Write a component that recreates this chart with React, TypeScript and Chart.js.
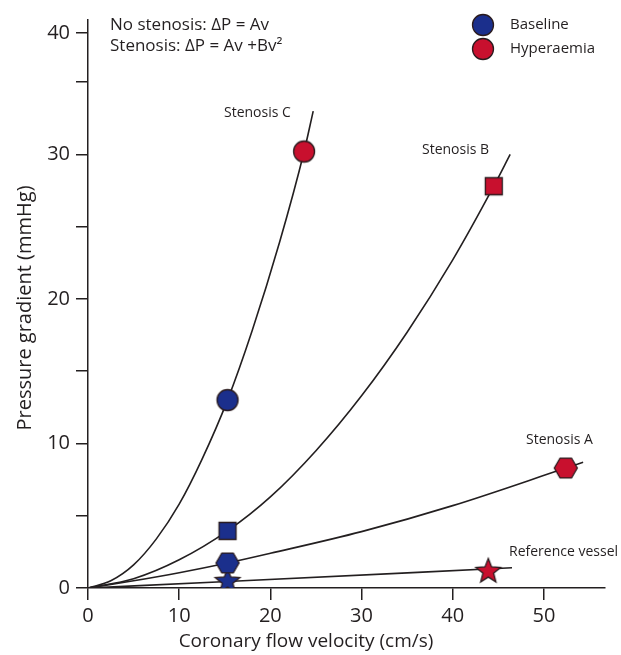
import React, { useEffect, useRef } from "react";
import { Chart, registerables } from "chart.js";

Chart.register(...registerables);

// ---------- data ----------
const xTickValues = [0, 10, 20, 30, 40, 50];
const yTickValues = [0, 5, 10, 15, 20, 25, 30, 35, 38.4];
const yTickLabels = ["0", "", "10", "", "20", "", "30", "", "40"];

const refVelocity = [0, 15.3, 46.5];
const refGradient = [0, 0.45, 1.4];

const stenosisAVelocity = [0, 5, 10, 15.3, 20, 30, 40, 52.4, 54.3];
const stenosisAGradient = [0, 0.5, 1.06, 1.73, 2.4, 3.9, 5.7, 8.3, 8.7];

const stenosisBVelocity = [0, 5, 10, 15.3, 20, 25, 30, 35, 40, 44.5, 46.3];
const stenosisBGradient = [0, 0.64, 1.95, 3.95, 6.3, 9.5, 13.3, 17.7, 22.7, 27.8, 30.0];

const stenosisCVelocity = [0, 2.5, 5, 7.5, 10, 12.5, 15.3, 18, 21, 23.7, 24.7];
const stenosisCGradient = [0, 0.5, 1.6, 3.4, 5.8, 8.9, 13.0, 17.8, 23.9, 30.2, 33.0];

// order: Reference vessel, Stenosis A, Stenosis B, Stenosis C
const markerShapes = ["star", "hexagon", "square", "circle"];
const baselineVelocity = [15.3, 15.3, 15.3, 15.3];
const baselineGradient = [0.55, 1.73, 3.95, 13.0];
const hyperaemiaVelocity = [43.9, 52.4, 44.5, 23.7];
const hyperaemiaGradient = [1.25, 8.3, 27.8, 30.2];

const legendLabels = ["Baseline", "Hyperaemia"];
const formulaLines = ["No stenosis: \u0394P = Av", "Stenosis: \u0394P = Av +Bv\u00b2"];
const curveLabels = ["Reference vessel", "Stenosis A", "Stenosis B", "Stenosis C"];
const xTitle = "Coronary flow velocity (cm/s)";
const yTitle = "Pressure gradient (mmHg)";

// ---------- styles ----------
const FONT = '"Open Sans", "DejaVu Sans", sans-serif';
const INK = "#231f20";
const BLUE = "#1b2f8c";
const RED = "#c8102e";
const EDGE = "#2a1b1e";
const legendColors = [BLUE, RED];
// label anchors in pixels (left edge, vertical middle)
const curveLabelPos = [
  [509, 552],
  [526, 440],
  [422, 150],
  [224, 113],
];

function makeMarker(shape: string, fill: string): HTMLCanvasElement {
  const size = 30;
  const c = document.createElement("canvas");
  c.width = size;
  c.height = size;
  const g = c.getContext("2d")!;
  const cx = size / 2;
  const cy = size / 2;
  g.beginPath();
  if (shape === "circle") {
    g.arc(cx, cy, 10.5, 0, Math.PI * 2);
  } else if (shape === "square") {
    g.rect(cx - 8.5, cy - 8.5, 17, 17);
  } else if (shape === "hexagon") {
    for (let i = 0; i < 6; i++) {
      const a = (Math.PI / 3) * i;
      const px = cx + 11.5 * Math.cos(a);
      const py = cy + 11.5 * Math.sin(a);
      if (i === 0) g.moveTo(px, py);
      else g.lineTo(px, py);
    }
    g.closePath();
  } else {
    for (let i = 0; i < 10; i++) {
      const r = i % 2 ? 5.6 : 13;
      const a = -Math.PI / 2 + (i * Math.PI) / 5;
      const px = cx + r * Math.cos(a);
      const py = cy + 1.5 + r * Math.sin(a);
      if (i === 0) g.moveTo(px, py);
      else g.lineTo(px, py);
    }
    g.closePath();
  }
  g.fillStyle = fill;
  g.fill();
  g.lineWidth = 1.3;
  g.strokeStyle = EDGE;
  g.stroke();
  return c;
}

const zip = (xs: number[], ys: number[]) => xs.map((v, i) => ({ x: v, y: ys[i] }));

export default function App() {
  const ref = useRef<HTMLCanvasElement | null>(null);

  useEffect(() => {
    const canvas = ref.current;
    if (!canvas) return;

    const blueMarkers = markerShapes.map((s) => makeMarker(s, BLUE));
    const redMarkers = markerShapes.map((s) => makeMarker(s, RED));

    const lineStyle = {
      showLine: true,
      borderColor: INK,
      borderWidth: 1.6,
      pointRadius: 0,
      pointHoverRadius: 0,
      cubicInterpolationMode: "monotone" as const,
      fill: false,
      order: 2,
    };

    const annotate = {
      id: "annotate",
      afterDraw(chart: any) {
        const ctx = chart.ctx as CanvasRenderingContext2D;
        ctx.save();
        ctx.textBaseline = "middle";
        ctx.textAlign = "left";
        ctx.fillStyle = INK;
        ctx.font = `17px ${FONT}`;
        formulaLines.forEach((t, i) => ctx.fillText(t, 110, 25 + i * 21));

        legendLabels.forEach((t, i) => {
          const yy = 25 + i * 24;
          ctx.beginPath();
          ctx.arc(483, yy, 10.5, 0, Math.PI * 2);
          ctx.fillStyle = legendColors[i];
          ctx.fill();
          ctx.lineWidth = 1.3;
          ctx.strokeStyle = EDGE;
          ctx.stroke();
          ctx.fillStyle = INK;
          ctx.font = `15px ${FONT}`;
          ctx.fillText(t, 510, yy);
        });

        ctx.font = `14px ${FONT}`;
        curveLabels.forEach((t, i) => ctx.fillText(t, curveLabelPos[i][0], curveLabelPos[i][1]));

        ctx.textAlign = "center";
        ctx.font = `19px ${FONT}`;
        ctx.fillText(xTitle, 306, 642);
        ctx.font = `20px ${FONT}`;
        ctx.translate(25, 308);
        ctx.rotate(-Math.PI / 2);
        ctx.fillText(yTitle, 0, 0);
        ctx.restore();
      },
    };

    const chart = new Chart(canvas, {
      type: "scatter",
      data: {
        datasets: [
          {
            label: "Baseline",
            data: zip(baselineVelocity, baselineGradient),
            pointStyle: blueMarkers as any,
            pointRadius: 11,
            showLine: false,
            order: 0,
          },
          {
            label: "Hyperaemia",
            data: zip(hyperaemiaVelocity, hyperaemiaGradient),
            pointStyle: redMarkers as any,
            pointRadius: 11,
            showLine: false,
            order: 0,
          },
          { label: "Reference vessel", data: zip(refVelocity, refGradient), ...lineStyle },
          { label: "Stenosis A", data: zip(stenosisAVelocity, stenosisAGradient), ...lineStyle },
          { label: "Stenosis B", data: zip(stenosisBVelocity, stenosisBGradient), ...lineStyle },
          { label: "Stenosis C", data: zip(stenosisCVelocity, stenosisCGradient), ...lineStyle },
        ] as any,
      },
      options: {
        animation: false,
        responsive: false,
        maintainAspectRatio: false,
        devicePixelRatio: 1,
        layout: { padding: { top: 20, right: 16, left: 0, bottom: 0 } },
        plugins: { legend: { display: false }, tooltip: { enabled: false } },
        scales: {
          x: {
            type: "linear",
            min: 0,
            max: 56.7,
            afterBuildTicks: (s: any) => {
              s.ticks = xTickValues.map((v) => ({ value: v }));
            },
            afterFit: (s: any) => {
              s.height = 67;
            },
            ticks: {
              autoSkip: false,
              maxRotation: 0,
              color: INK,
              font: { family: FONT, size: 20 },
              padding: 4,
            },
            grid: { drawOnChartArea: false, drawTicks: true, tickLength: 12, color: INK, lineWidth: 1.5 },
            border: { display: true, color: INK, width: 1.5 },
          },
          y: {
            type: "linear",
            min: 0,
            max: 39.3,
            afterBuildTicks: (s: any) => {
              s.ticks = yTickValues.map((v) => ({ value: v }));
            },
            afterFit: (s: any) => {
              s.width = 88;
            },
            ticks: {
              autoSkip: false,
              color: INK,
              font: { family: FONT, size: 20 },
              padding: 6,
              callback: (_v: any, i: number) => yTickLabels[i],
            },
            grid: { drawOnChartArea: false, drawTicks: true, tickLength: 12, color: INK, lineWidth: 1.5 },
            border: { display: true, color: INK, width: 1.5 },
          },
        },
      },
      plugins: [annotate],
    });

    return () => chart.destroy();
  }, []);

  return (
    <div style={{ position: "absolute", left: 0, top: 0, width: 621, height: 655, background: "#fff" }}>
      <canvas ref={ref} width={621} height={655} style={{ display: "block", width: 621, height: 655 }} />
    </div>
  );
}
